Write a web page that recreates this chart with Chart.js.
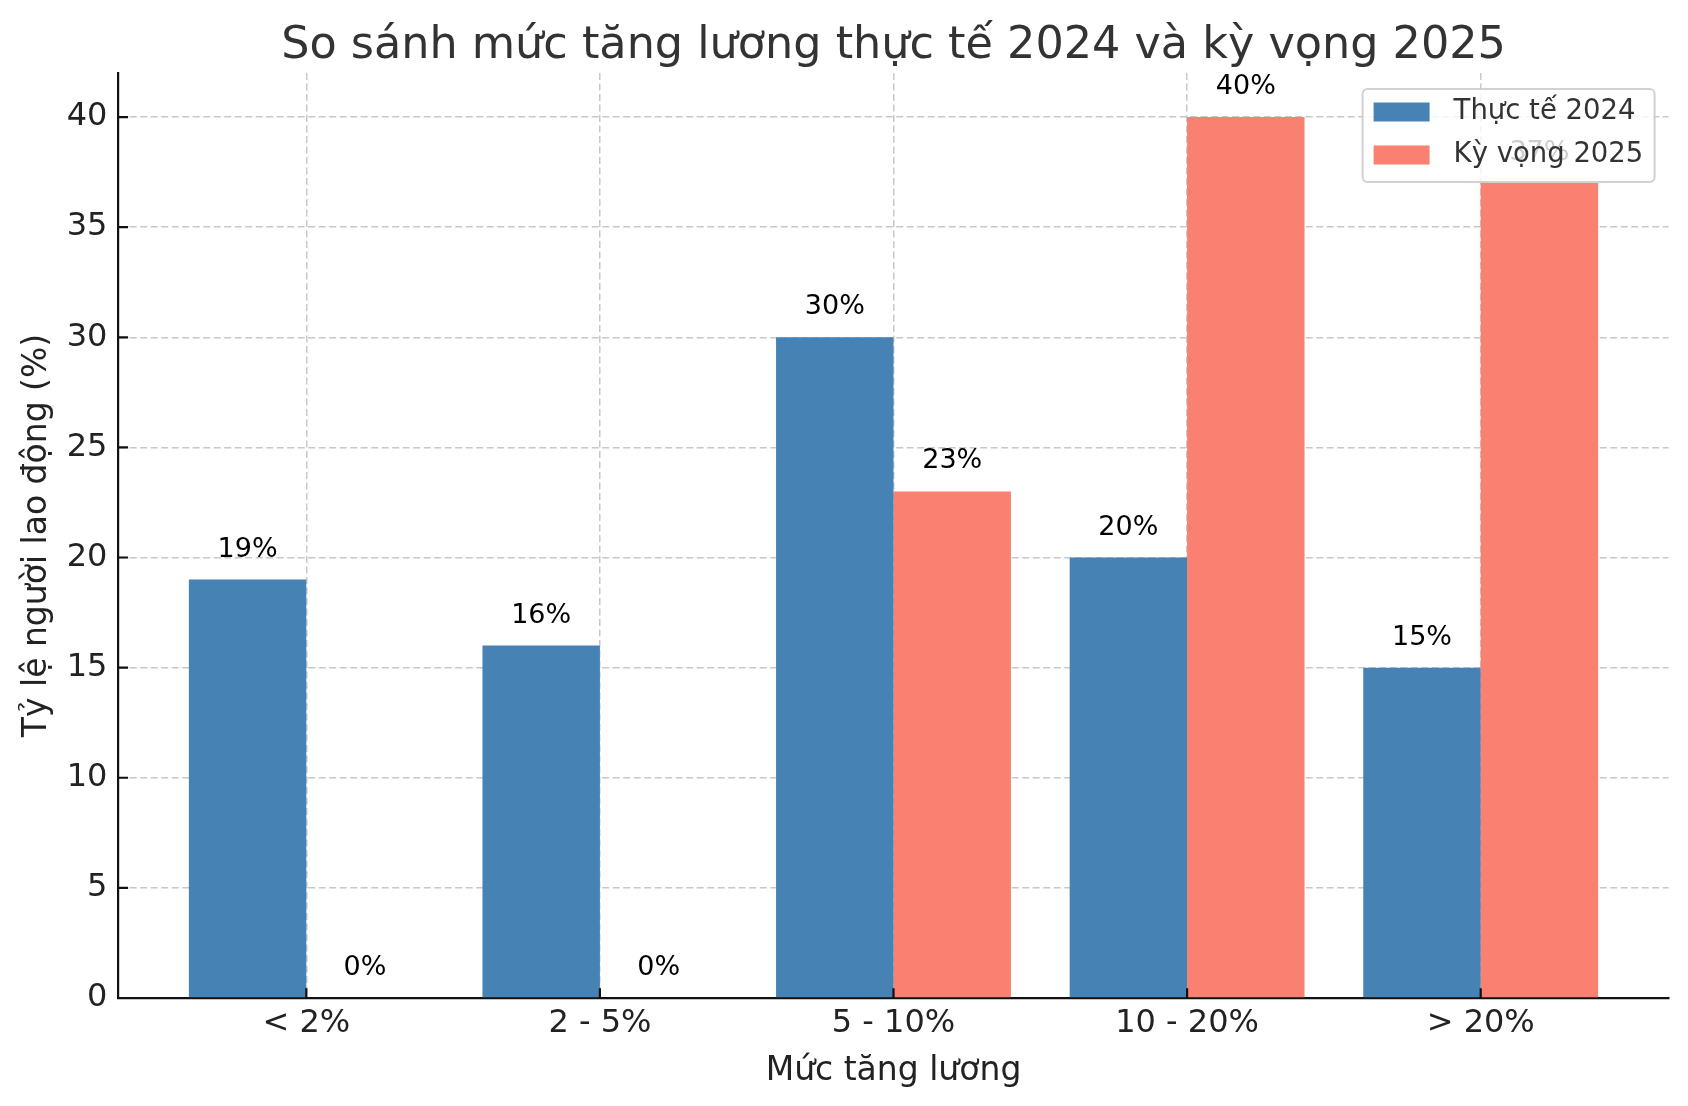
<!DOCTYPE html>
<html lang="vi">
<head>
<meta charset="utf-8">
<title>So sánh mức tăng lương</title>
<script src="https://cdn.jsdelivr.net/npm/chart.js@4.4.1/dist/chart.umd.min.js"></script>
<style>
  html, body { margin: 0; padding: 0; background: #fff; }
  canvas { display: block; }
</style>
</head>
<body>
<canvas id="salaryChart" width="1688" height="1106"></canvas>
<script>
// Data
const CATEGORIES = ['< 2%', '2 - 5%', '5 - 10%', '10 - 20%', '> 20%'];
const ACTUAL_2024 = [19, 16, 30, 20, 15];
const EXPECTED_2025 = [0, 0, 23, 40, 37];
const Y_TICKS = [0, 5, 10, 15, 20, 25, 30, 35, 40];
const SERIES_NAMES = ['Thực tế 2024', 'Kỳ vọng 2025'];
const SERIES_COLORS = ['#4682B4', '#FA8072'];

const FONT = "'DejaVu Sans', sans-serif";
const gridColor = '#c8c8c8';
const axisColor = '#111';
const tickColor = '#222';

// value labels above each bar
const barLabels = {
    id: 'barLabels',
    afterDatasetsDraw(chart) {
        const ctx = chart.ctx;
        ctx.save();
        ctx.font = '27px ' + FONT;
        ctx.fillStyle = '#000';
        ctx.textAlign = 'center';
        ctx.textBaseline = 'middle';
        chart.data.datasets.forEach((ds, i) => {
            chart.getDatasetMeta(i).data.forEach((bar, j) => {
                ctx.fillText(ds.data[j].y + '%', bar.x, bar.y - 30);
            });
        });
        ctx.restore();
    }
};

// matplotlib-style ticks pointing into the plot
const innerTicks = {
    id: 'innerTicks',
    afterDraw(chart) {
        const { ctx, chartArea, scales } = chart;
        ctx.save();
        ctx.strokeStyle = axisColor;
        ctx.lineWidth = 2.2;
        ctx.beginPath();
        scales.y.ticks.forEach(t => {
            const y = scales.y.getPixelForValue(t.value);
            ctx.moveTo(chartArea.left, y);
            ctx.lineTo(chartArea.left + 9.7, y);
        });
        scales.x.ticks.forEach(t => {
            const x = scales.x.getPixelForValue(t.value);
            ctx.moveTo(x, chartArea.bottom);
            ctx.lineTo(x, chartArea.bottom - 9.7);
        });
        ctx.stroke();
        ctx.restore();
    }
};

// framed legend in the upper right corner of the plot
const boxLegend = {
    id: 'boxLegend',
    afterDraw(chart) {
        const { ctx, chartArea } = chart;
        const w = 292, h = 93;
        const x = chartArea.right - 14 - w;
        const y = chartArea.top + 16;
        ctx.save();
        ctx.beginPath();
        ctx.roundRect(x, y, w, h, 5);
        ctx.fillStyle = 'rgba(255,255,255,0.8)';
        ctx.fill();
        ctx.strokeStyle = 'rgba(204,204,204,0.9)';
        ctx.lineWidth = 2;
        ctx.stroke();
        ctx.font = '27.5px ' + FONT;
        ctx.textBaseline = 'middle';
        ctx.textAlign = 'left';
        chart.data.datasets.forEach((ds, i) => {
            const cy = y + 23 + i * 43;
            ctx.fillStyle = ds.backgroundColor;
            ctx.fillRect(x + 11, cy - 9.5, 56, 19);
            ctx.fillStyle = '#333';
            ctx.fillText(ds.label, x + 91, cy);
        });
        ctx.restore();
    }
};

const toPoints = values => values.map((v, i) => ({ x: i, y: v }));

new Chart(document.getElementById('salaryChart'), {
    type: 'bar',
    data: {
        datasets: [
            {
                label: SERIES_NAMES[0],
                data: toPoints(ACTUAL_2024),
                backgroundColor: SERIES_COLORS[0],
                borderWidth: 0,
                categoryPercentage: 0.8,
                barPercentage: 1.0
            },
            {
                label: SERIES_NAMES[1],
                data: toPoints(EXPECTED_2025),
                backgroundColor: SERIES_COLORS[1],
                borderWidth: 0,
                categoryPercentage: 0.8,
                barPercentage: 1.0
            }
        ]
    },
    options: {
        responsive: false,
        devicePixelRatio: 1,
        animation: false,
        layout: { padding: { left: 0, right: 19.4, top: 0, bottom: 0 } },
        plugins: {
            legend: { display: false },
            tooltip: { enabled: false },
            title: {
                display: true,
                fullSize: false,
                text: 'So sánh mức tăng lương thực tế 2024 và kỳ vọng 2025',
                color: '#333',
                font: { family: FONT, size: 44.5, weight: 'normal' },
                padding: { top: 19.6, bottom: 0 }
            }
        },
        scales: {
            x: {
                type: 'linear',
                min: -0.64,
                max: 4.64,
                offset: false,
                afterBuildTicks: s => { s.ticks = CATEGORIES.map((_, i) => ({ value: i })); },
                afterFit: s => { s.height = 108; },
                grid: { color: gridColor, lineWidth: 1.5, drawTicks: false, offset: false },
                border: { display: true, color: axisColor, width: 2.2, dash: [7, 3.5] },
                ticks: {
                    color: tickColor,
                    font: { family: FONT, size: 32 },
                    padding: 6,
                    maxRotation: 0,
                    autoSkip: false,
                    callback: v => CATEGORIES[v] ?? ''
                },
                title: {
                    display: true,
                    text: 'Mức tăng lương',
                    color: tickColor,
                    font: { family: FONT, size: 33 },
                    padding: { top: 0, bottom: 15 }
                }
            },
            y: {
                min: 0,
                max: 42,
                afterBuildTicks: s => { s.ticks = Y_TICKS.map(v => ({ value: v })); },
                afterFit: s => { s.width = 118.4; },
                grid: { color: gridColor, lineWidth: 1.5, drawTicks: false },
                border: { display: true, color: axisColor, width: 2.2, dash: [7, 3.5] },
                ticks: {
                    color: tickColor,
                    font: { family: FONT, size: 32 },
                    padding: 11
                },
                title: {
                    display: true,
                    text: 'Tỷ lệ người lao động (%)',
                    color: tickColor,
                    font: { family: FONT, size: 33 },
                    padding: { top: 18, bottom: 0 }
                }
            }
        }
    },
    plugins: [barLabels, innerTicks, boxLegend]
});
</script>
</body>
</html>
